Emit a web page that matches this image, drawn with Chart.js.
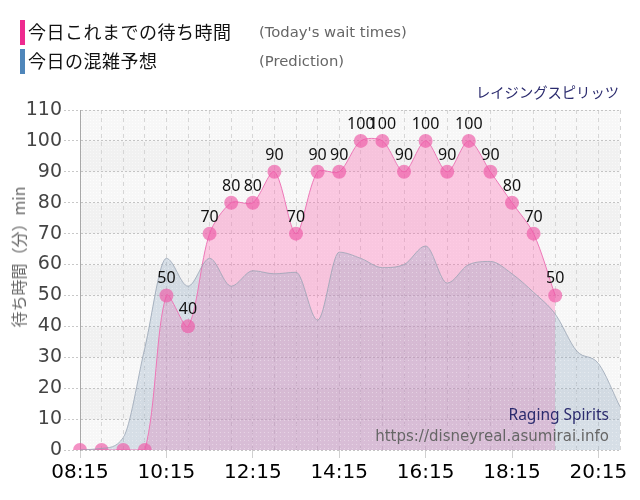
<!DOCTYPE html>
<html>
<head>
<meta charset="utf-8">
<script src="https://cdn.jsdelivr.net/npm/chart.js@4.4.1/dist/chart.umd.min.js"></script>
<style>
  html, body { margin: 0; padding: 0; background: #fff; }
  #wrap { position: relative; width: 640px; height: 500px; overflow: hidden; }
  canvas { position: absolute; left: 0; top: 0; }
  .t { position: absolute; white-space: nowrap; }
  .bar { position: absolute; width: 5px; height: 25px; }
  .jp { font-family: "Noto Sans CJK JP", sans-serif; font-size: 18px; color: #111; line-height: 25px; letter-spacing: 0.5px; }
  .en { font-family: "DejaVu Sans", sans-serif; font-size: 14.8px; color: #666; line-height: 25px; }
</style>
</head>
<body>
<div id="wrap">
  <canvas id="c" width="640" height="500"></canvas>
  <div class="bar" style="left:20px;top:20px;background:#ee2a8f;"></div>
  <div class="t jp" style="left:28px;top:19px;">今日これまでの待ち時間</div>
  <div class="t en" style="left:259px;top:19px;">(Today's wait times)</div>
  <div class="bar" style="left:20px;top:49px;background:#4f86ba;"></div>
  <div class="t jp" style="left:28px;top:48px;">今日の混雑予想</div>
  <div class="t en" style="left:259px;top:48px;">(Prediction)</div>
  <div class="t" style="right:21px;top:82px;font-family:'Noto Sans CJK JP',sans-serif;font-size:14.3px;color:#2b2b6e;line-height:20px;">レイジングスピリッツ</div>
  <div class="t" style="right:31px;top:403px;font-family:'Noto Sans',sans-serif;font-size:15.5px;color:#2b2b6e;line-height:22px;">Raging Spirits</div>
  <div class="t" style="right:31px;top:425px;font-family:'DejaVu Sans',sans-serif;font-size:15px;color:#666;line-height:22px;">https://disneyreal.asumirai.info</div>
  <div class="t" style="left:18px;top:257px;transform:translate(-50%,-50%) rotate(-90deg);font-family:'Noto Sans CJK JP',sans-serif;font-size:16px;color:#666;line-height:20px;">待ち時間（分）min</div>
</div>
<script>
// ---- data ----
const timeLabels = ["08:15","08:45","09:15","09:45","10:15","10:45","11:15","11:45","12:15","12:45","13:15","13:45","14:15","14:45","15:15","15:45","16:15","16:45","17:15","17:45","18:15","18:45","19:15","19:45","20:15","20:45"];
const todayWait = [0,0,0,0,50,40,70,80,80,90,70,90,90,100,100,90,100,90,100,90,80,70,50];
const prediction = [0,0.5,4,33,62,53,62,53,58,57,57.5,42,64,62,59,60,66,54,60,61,57,51,44,32,28,14];
const yTicks = [0,10,20,30,40,50,60,70,80,90,100,110];

function makePattern(base, dot, size) {
  const p = document.createElement('canvas');
  p.width = size; p.height = size;
  const g = p.getContext('2d');
  g.fillStyle = base; g.fillRect(0, 0, size, size);
  g.fillStyle = dot; g.fillRect(0, 0, 1, 1);
  return document.getElementById('c').getContext('2d').createPattern(p, 'repeat');
}
const bandLight = makePattern('#f7f7f7', '#fdfdfd', 3);
const bandDark = makePattern('#f1f1f1', '#f8f8f8', 3);
const predFill = makePattern('rgba(140,165,192,0.30)', 'rgba(255,255,255,0.35)', 4);

const bandPlugin = {
  id: 'bands',
  beforeDraw(chart) {
    const { ctx, chartArea: a, scales: { y } } = chart;
    ctx.save();
    for (let i = 0; i < yTicks.length - 1; i++) {
      const y0 = y.getPixelForValue(yTicks[i]);
      const y1 = y.getPixelForValue(yTicks[i + 1]);
      ctx.fillStyle = (i % 2 === 1) ? bandDark : bandLight;
      ctx.fillRect(a.left, y1, a.right - a.left, y0 - y1);
    }
    ctx.restore();
  }
};

const labelPlugin = {
  id: 'valueLabels',
  afterDatasetsDraw(chart) {
    const ctx = chart.ctx;
    const meta = chart.getDatasetMeta(1);
    ctx.save();
    ctx.font = '16px "Noto Sans", sans-serif';
    ctx.fillStyle = '#111';
    ctx.textAlign = 'center';
    ctx.textBaseline = 'alphabetic';
    meta.data.forEach((pt, i) => {
      const v = todayWait[i];
      if (v > 0) ctx.fillText(String(v), pt.x, pt.y - 12);
    });
    ctx.restore();
  }
};

new Chart(document.getElementById('c'), {
  type: 'line',
  data: {
    labels: timeLabels,
    datasets: [
      {
        label: '今日の混雑予想',
        data: prediction,
        borderColor: 'rgba(150,162,178,0.75)',
        borderWidth: 1,
        backgroundColor: predFill,
        fill: 'origin',
        pointRadius: 0,
        cubicInterpolationMode: 'monotone'
      },
      {
        label: '今日これまでの待ち時間',
        data: todayWait,
        borderColor: '#ee78b8',
        borderWidth: 1,
        backgroundColor: 'rgba(255,110,180,0.35)',
        fill: 'origin',
        tension: 0.3,
        pointRadius: 7,
        pointHoverRadius: 7,
        pointBorderWidth: 0,
        pointBackgroundColor: 'rgba(238,88,166,0.65)'
      }
    ]
  },
  options: {
    responsive: false,
    animation: false,
    events: [],
    layout: { padding: { top: 110, right: 20, left: 0, bottom: 0 } },
    plugins: {
      legend: { display: false },
      tooltip: { enabled: false },
      filler: { drawTime: 'beforeDatasetsDraw' }
    },
    scales: {
      x: {
        type: 'category',
        offset: false,
        afterFit(s) { s.height = 50; },
        border: { display: false, dash: [4, 4] },
        grid: {
          color: '#d6d6d6',
          tickLength: 8,
          tickColor: (c) => (c.index % 4 === 0 ? '#d0d0d0' : 'rgba(0,0,0,0)'),
          tickBorderDash: []
        },
        ticks: {
          autoSkip: false,
          maxRotation: 0,
          padding: 3,
          color: '#000',
          font: { family: 'DejaVu Sans', size: 20 },
          callback: (v, i) => (i % 4 === 0 ? timeLabels[i] : '')
        }
      },
      y: {
        min: 0,
        max: 110,
        afterFit(s) { s.width = 80; },
        afterBuildTicks(s) { s.ticks = yTicks.map(v => ({ value: v })); },
        border: { display: true, color: '#a8a8a8', width: 1, dash: [2, 2] },
        grid: {
          color: '#c4c4c4',
          tickLength: 16,
          tickBorderDash: [2, 2],
          tickColor: '#c8c8c8'
        },
        ticks: {
          padding: 2,
          color: '#444',
          font: { family: 'DejaVu Sans', size: 19 }
        }
      }
    }
  },
  plugins: [bandPlugin, labelPlugin]
});
</script>
</body>
</html>
